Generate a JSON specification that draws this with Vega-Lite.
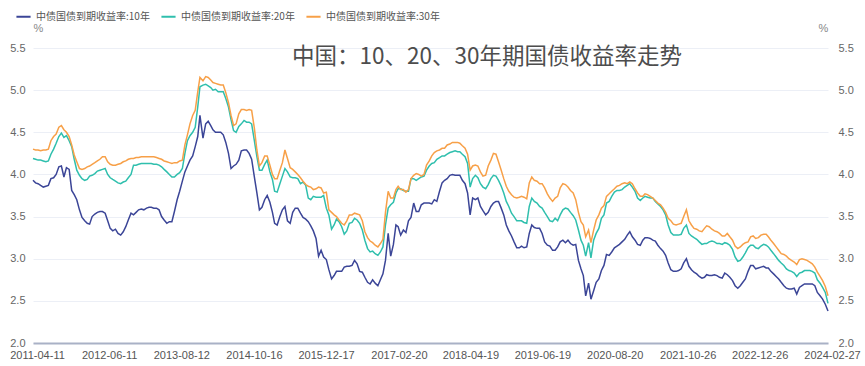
{
  "$schema": "https://vega.github.io/schema/vega-lite/v6.json",
  "width": 795,
  "height": 295,
  "autosize": {"type": "none"},
  "padding": {"left": 33, "top": 48, "right": 37, "bottom": 23},
  "background": "white",
  "config": {"view": {"stroke": null}, "font": "Liberation Sans"},
  "title": {
    "text": "中国：10、20、30年期国债收益率走势",
    "font": "Noto Sans CJK SC",
    "fontSize": 22.5,
    "fontWeight": "normal",
    "color": "#4d4d4d",
    "anchor": "start",
    "frame": "group",
    "orient": "top",
    "offset": -60,
    "dx": 259
  },
  "data": {
    "values": [
      {"date": "2011-04-11", "t10": 3.93, "t20": 4.19, "t30": 4.30},
      {"date": "2011-04-26", "t10": 3.90, "t20": 4.18, "t30": 4.29},
      {"date": "2011-05-11", "t10": 3.89, "t20": 4.17, "t30": 4.29},
      {"date": "2011-05-26", "t10": 3.87, "t20": 4.17, "t30": 4.28},
      {"date": "2011-06-11", "t10": 3.85, "t20": 4.16, "t30": 4.29},
      {"date": "2011-06-26", "t10": 3.86, "t20": 4.15, "t30": 4.29},
      {"date": "2011-07-11", "t10": 3.87, "t20": 4.16, "t30": 4.30},
      {"date": "2011-07-26", "t10": 3.95, "t20": 4.24, "t30": 4.40},
      {"date": "2011-08-11", "t10": 3.96, "t20": 4.30, "t30": 4.45},
      {"date": "2011-08-26", "t10": 4.00, "t20": 4.37, "t30": 4.48},
      {"date": "2011-09-11", "t10": 4.09, "t20": 4.45, "t30": 4.56},
      {"date": "2011-09-26", "t10": 4.10, "t20": 4.49, "t30": 4.58},
      {"date": "2011-10-11", "t10": 3.97, "t20": 4.44, "t30": 4.53},
      {"date": "2011-10-26", "t10": 4.08, "t20": 4.46, "t30": 4.50},
      {"date": "2011-11-11", "t10": 4.06, "t20": 4.40, "t30": 4.45},
      {"date": "2011-11-26", "t10": 3.81, "t20": 4.33, "t30": 4.35},
      {"date": "2011-12-11", "t10": 3.76, "t20": 4.18, "t30": 4.23},
      {"date": "2011-12-26", "t10": 3.70, "t20": 4.05, "t30": 4.15},
      {"date": "2012-01-11", "t10": 3.58, "t20": 3.99, "t30": 4.07},
      {"date": "2012-01-26", "t10": 3.49, "t20": 3.95, "t30": 4.06},
      {"date": "2012-02-11", "t10": 3.45, "t20": 3.93, "t30": 4.07},
      {"date": "2012-02-26", "t10": 3.42, "t20": 3.94, "t30": 4.09},
      {"date": "2012-03-11", "t10": 3.41, "t20": 3.98, "t30": 4.10},
      {"date": "2012-03-26", "t10": 3.50, "t20": 3.99, "t30": 4.12},
      {"date": "2012-04-11", "t10": 3.53, "t20": 4.01, "t30": 4.14},
      {"date": "2012-04-26", "t10": 3.55, "t20": 4.04, "t30": 4.16},
      {"date": "2012-05-11", "t10": 3.56, "t20": 4.05, "t30": 4.18},
      {"date": "2012-05-26", "t10": 3.56, "t20": 4.06, "t30": 4.21},
      {"date": "2012-06-11", "t10": 3.54, "t20": 4.07, "t30": 4.21},
      {"date": "2012-06-26", "t10": 3.45, "t20": 4.00, "t30": 4.15},
      {"date": "2012-07-11", "t10": 3.36, "t20": 3.96, "t30": 4.12},
      {"date": "2012-07-26", "t10": 3.33, "t20": 3.94, "t30": 4.11},
      {"date": "2012-08-11", "t10": 3.35, "t20": 3.92, "t30": 4.11},
      {"date": "2012-08-26", "t10": 3.30, "t20": 3.90, "t30": 4.12},
      {"date": "2012-09-11", "t10": 3.28, "t20": 3.89, "t30": 4.13},
      {"date": "2012-09-26", "t10": 3.32, "t20": 3.91, "t30": 4.15},
      {"date": "2012-10-11", "t10": 3.38, "t20": 3.92, "t30": 4.16},
      {"date": "2012-10-26", "t10": 3.46, "t20": 3.96, "t30": 4.18},
      {"date": "2012-11-11", "t10": 3.54, "t20": 4.00, "t30": 4.19},
      {"date": "2012-11-26", "t10": 3.52, "t20": 4.11, "t30": 4.19},
      {"date": "2012-12-11", "t10": 3.55, "t20": 4.11, "t30": 4.20},
      {"date": "2012-12-26", "t10": 3.58, "t20": 4.12, "t30": 4.20},
      {"date": "2013-01-11", "t10": 3.59, "t20": 4.13, "t30": 4.21},
      {"date": "2013-01-26", "t10": 3.58, "t20": 4.13, "t30": 4.21},
      {"date": "2013-02-11", "t10": 3.60, "t20": 4.13, "t30": 4.21},
      {"date": "2013-02-26", "t10": 3.61, "t20": 4.13, "t30": 4.21},
      {"date": "2013-03-11", "t10": 3.61, "t20": 4.13, "t30": 4.21},
      {"date": "2013-03-26", "t10": 3.60, "t20": 4.12, "t30": 4.21},
      {"date": "2013-04-11", "t10": 3.60, "t20": 4.12, "t30": 4.20},
      {"date": "2013-04-26", "t10": 3.58, "t20": 4.11, "t30": 4.19},
      {"date": "2013-05-11", "t10": 3.50, "t20": 4.09, "t30": 4.18},
      {"date": "2013-05-26", "t10": 3.46, "t20": 4.06, "t30": 4.16},
      {"date": "2013-06-11", "t10": 3.42, "t20": 4.03, "t30": 4.15},
      {"date": "2013-06-26", "t10": 3.44, "t20": 4.00, "t30": 4.14},
      {"date": "2013-07-11", "t10": 3.44, "t20": 3.97, "t30": 4.13},
      {"date": "2013-07-26", "t10": 3.56, "t20": 3.97, "t30": 4.14},
      {"date": "2013-08-11", "t10": 3.70, "t20": 4.00, "t30": 4.14},
      {"date": "2013-08-26", "t10": 3.80, "t20": 4.02, "t30": 4.16},
      {"date": "2013-09-11", "t10": 3.92, "t20": 4.07, "t30": 4.17},
      {"date": "2013-09-26", "t10": 4.03, "t20": 4.25, "t30": 4.35},
      {"date": "2013-10-11", "t10": 4.10, "t20": 4.40, "t30": 4.47},
      {"date": "2013-10-26", "t10": 4.17, "t20": 4.46, "t30": 4.60},
      {"date": "2013-11-11", "t10": 4.22, "t20": 4.50, "t30": 4.70},
      {"date": "2013-11-26", "t10": 4.33, "t20": 4.56, "t30": 4.76},
      {"date": "2013-12-11", "t10": 4.45, "t20": 4.80, "t30": 4.98},
      {"date": "2013-12-24", "t10": 4.70, "t20": 5.04, "t30": 5.15},
      {"date": "2014-01-11", "t10": 4.43, "t20": 5.06, "t30": 5.11},
      {"date": "2014-01-27", "t10": 4.60, "t20": 5.07, "t30": 5.16},
      {"date": "2014-02-11", "t10": 4.63, "t20": 5.05, "t30": 5.15},
      {"date": "2014-02-26", "t10": 4.58, "t20": 5.03, "t30": 5.12},
      {"date": "2014-03-11", "t10": 4.53, "t20": 5.00, "t30": 5.09},
      {"date": "2014-03-26", "t10": 4.50, "t20": 5.01, "t30": 5.08},
      {"date": "2014-04-11", "t10": 4.50, "t20": 4.98, "t30": 5.07},
      {"date": "2014-04-26", "t10": 4.50, "t20": 4.98, "t30": 5.06},
      {"date": "2014-05-11", "t10": 4.47, "t20": 4.98, "t30": 5.06},
      {"date": "2014-05-26", "t10": 4.38, "t20": 4.90, "t30": 4.97},
      {"date": "2014-06-11", "t10": 4.25, "t20": 4.80, "t30": 4.85},
      {"date": "2014-06-26", "t10": 4.07, "t20": 4.65, "t30": 4.70},
      {"date": "2014-07-11", "t10": 4.10, "t20": 4.52, "t30": 4.58},
      {"date": "2014-07-26", "t10": 4.12, "t20": 4.50, "t30": 4.60},
      {"date": "2014-08-11", "t10": 4.17, "t20": 4.57, "t30": 4.72},
      {"date": "2014-08-26", "t10": 4.28, "t20": 4.60, "t30": 4.77},
      {"date": "2014-09-11", "t10": 4.29, "t20": 4.64, "t30": 4.77},
      {"date": "2014-09-26", "t10": 4.29, "t20": 4.62, "t30": 4.76},
      {"date": "2014-10-11", "t10": 4.25, "t20": 4.62, "t30": 4.77},
      {"date": "2014-10-26", "t10": 4.18, "t20": 4.60, "t30": 4.76},
      {"date": "2014-11-11", "t10": 3.97, "t20": 4.40, "t30": 4.55},
      {"date": "2014-11-26", "t10": 3.78, "t20": 4.21, "t30": 4.29},
      {"date": "2014-12-11", "t10": 3.58, "t20": 4.05, "t30": 4.10},
      {"date": "2014-12-26", "t10": 3.61, "t20": 4.05, "t30": 4.14},
      {"date": "2015-01-11", "t10": 3.70, "t20": 4.12, "t30": 4.22},
      {"date": "2015-01-26", "t10": 3.75, "t20": 4.17, "t30": 4.22},
      {"date": "2015-02-11", "t10": 3.67, "t20": 4.03, "t30": 4.11},
      {"date": "2015-02-26", "t10": 3.55, "t20": 3.94, "t30": 4.00},
      {"date": "2015-03-11", "t10": 3.42, "t20": 3.80, "t30": 3.95},
      {"date": "2015-03-26", "t10": 3.40, "t20": 3.79, "t30": 3.95},
      {"date": "2015-04-11", "t10": 3.50, "t20": 3.89, "t30": 4.05},
      {"date": "2015-04-26", "t10": 3.58, "t20": 3.98, "t30": 4.14},
      {"date": "2015-05-11", "t10": 3.62, "t20": 4.07, "t30": 4.29},
      {"date": "2015-05-26", "t10": 3.45, "t20": 4.03, "t30": 4.19},
      {"date": "2015-06-11", "t10": 3.42, "t20": 3.97, "t30": 4.08},
      {"date": "2015-06-26", "t10": 3.55, "t20": 3.96, "t30": 4.06},
      {"date": "2015-07-11", "t10": 3.60, "t20": 3.96, "t30": 4.03},
      {"date": "2015-07-26", "t10": 3.60, "t20": 3.95, "t30": 4.00},
      {"date": "2015-08-11", "t10": 3.54, "t20": 3.89, "t30": 3.96},
      {"date": "2015-08-26", "t10": 3.49, "t20": 3.91, "t30": 3.92},
      {"date": "2015-09-11", "t10": 3.47, "t20": 3.87, "t30": 3.88},
      {"date": "2015-09-26", "t10": 3.44, "t20": 3.72, "t30": 3.86},
      {"date": "2015-10-11", "t10": 3.39, "t20": 3.70, "t30": 3.85},
      {"date": "2015-10-26", "t10": 3.33, "t20": 3.74, "t30": 3.82},
      {"date": "2015-11-11", "t10": 3.24, "t20": 3.73, "t30": 3.83},
      {"date": "2015-11-26", "t10": 3.03, "t20": 3.73, "t30": 3.85},
      {"date": "2015-12-11", "t10": 3.10, "t20": 3.73, "t30": 3.84},
      {"date": "2015-12-26", "t10": 3.02, "t20": 3.75, "t30": 3.78},
      {"date": "2016-01-11", "t10": 2.99, "t20": 3.60, "t30": 3.79},
      {"date": "2016-01-26", "t10": 2.87, "t20": 3.52, "t30": 3.58},
      {"date": "2016-02-11", "t10": 2.76, "t20": 3.35, "t30": 3.55},
      {"date": "2016-02-26", "t10": 2.80, "t20": 3.40, "t30": 3.52},
      {"date": "2016-03-11", "t10": 2.85, "t20": 3.47, "t30": 3.50},
      {"date": "2016-03-26", "t10": 2.85, "t20": 3.44, "t30": 3.46},
      {"date": "2016-04-11", "t10": 2.85, "t20": 3.38, "t30": 3.42},
      {"date": "2016-04-26", "t10": 2.90, "t20": 3.29, "t30": 3.40},
      {"date": "2016-05-11", "t10": 2.91, "t20": 3.33, "t30": 3.45},
      {"date": "2016-05-26", "t10": 2.91, "t20": 3.42, "t30": 3.52},
      {"date": "2016-06-11", "t10": 2.92, "t20": 3.43, "t30": 3.52},
      {"date": "2016-06-26", "t10": 2.98, "t20": 3.48, "t30": 3.54},
      {"date": "2016-07-11", "t10": 2.94, "t20": 3.46, "t30": 3.53},
      {"date": "2016-07-26", "t10": 2.85, "t20": 3.42, "t30": 3.52},
      {"date": "2016-08-11", "t10": 2.84, "t20": 3.34, "t30": 3.45},
      {"date": "2016-08-26", "t10": 2.78, "t20": 3.22, "t30": 3.32},
      {"date": "2016-09-11", "t10": 2.72, "t20": 3.12, "t30": 3.25},
      {"date": "2016-09-26", "t10": 2.70, "t20": 3.08, "t30": 3.21},
      {"date": "2016-10-11", "t10": 2.75, "t20": 3.09, "t30": 3.19},
      {"date": "2016-10-26", "t10": 2.71, "t20": 3.06, "t30": 3.16},
      {"date": "2016-11-11", "t10": 2.68, "t20": 3.04, "t30": 3.14},
      {"date": "2016-11-26", "t10": 2.75, "t20": 3.08, "t30": 3.18},
      {"date": "2016-12-11", "t10": 2.82, "t20": 3.14, "t30": 3.23},
      {"date": "2016-12-26", "t10": 2.98, "t20": 3.40, "t30": 3.55},
      {"date": "2017-01-11", "t10": 3.30, "t20": 3.60, "t30": 3.80},
      {"date": "2017-01-26", "t10": 3.03, "t20": 3.64, "t30": 3.72},
      {"date": "2017-02-11", "t10": 3.17, "t20": 3.67, "t30": 3.72},
      {"date": "2017-02-26", "t10": 3.40, "t20": 3.78, "t30": 3.82},
      {"date": "2017-03-11", "t10": 3.38, "t20": 3.83, "t30": 3.86},
      {"date": "2017-03-26", "t10": 3.28, "t20": 3.83, "t30": 3.82},
      {"date": "2017-04-11", "t10": 3.34, "t20": 3.81, "t30": 3.82},
      {"date": "2017-04-26", "t10": 3.31, "t20": 3.80, "t30": 3.79},
      {"date": "2017-05-11", "t10": 3.45, "t20": 3.80, "t30": 3.82},
      {"date": "2017-05-26", "t10": 3.49, "t20": 3.95, "t30": 3.95},
      {"date": "2017-06-11", "t10": 3.66, "t20": 3.95, "t30": 3.99},
      {"date": "2017-06-26", "t10": 3.56, "t20": 3.93, "t30": 4.01},
      {"date": "2017-07-11", "t10": 3.56, "t20": 3.95, "t30": 4.00},
      {"date": "2017-07-26", "t10": 3.64, "t20": 3.97, "t30": 3.98},
      {"date": "2017-08-11", "t10": 3.66, "t20": 3.98, "t30": 4.00},
      {"date": "2017-08-26", "t10": 3.66, "t20": 4.05, "t30": 4.11},
      {"date": "2017-09-11", "t10": 3.66, "t20": 4.10, "t30": 4.16},
      {"date": "2017-09-26", "t10": 3.65, "t20": 4.13, "t30": 4.22},
      {"date": "2017-10-11", "t10": 3.70, "t20": 4.14, "t30": 4.26},
      {"date": "2017-10-26", "t10": 3.68, "t20": 4.18, "t30": 4.28},
      {"date": "2017-11-11", "t10": 3.80, "t20": 4.20, "t30": 4.29},
      {"date": "2017-11-26", "t10": 3.90, "t20": 4.22, "t30": 4.31},
      {"date": "2017-12-11", "t10": 3.93, "t20": 4.22, "t30": 4.31},
      {"date": "2017-12-26", "t10": 3.95, "t20": 4.24, "t30": 4.35},
      {"date": "2018-01-11", "t10": 3.99, "t20": 4.26, "t30": 4.36},
      {"date": "2018-01-26", "t10": 4.00, "t20": 4.27, "t30": 4.38},
      {"date": "2018-02-11", "t10": 3.99, "t20": 4.28, "t30": 4.38},
      {"date": "2018-02-26", "t10": 3.99, "t20": 4.27, "t30": 4.38},
      {"date": "2018-03-11", "t10": 3.99, "t20": 4.27, "t30": 4.37},
      {"date": "2018-03-26", "t10": 3.93, "t20": 4.24, "t30": 4.34},
      {"date": "2018-04-11", "t10": 3.89, "t20": 4.21, "t30": 4.31},
      {"date": "2018-04-26", "t10": 3.78, "t20": 4.13, "t30": 4.24},
      {"date": "2018-05-11", "t10": 3.52, "t20": 3.85, "t30": 4.05},
      {"date": "2018-05-26", "t10": 3.72, "t20": 3.95, "t30": 4.10},
      {"date": "2018-06-11", "t10": 3.70, "t20": 3.99, "t30": 4.11},
      {"date": "2018-06-26", "t10": 3.72, "t20": 3.96, "t30": 4.10},
      {"date": "2018-07-11", "t10": 3.62, "t20": 3.89, "t30": 4.03},
      {"date": "2018-07-26", "t10": 3.57, "t20": 3.85, "t30": 3.98},
      {"date": "2018-08-11", "t10": 3.52, "t20": 3.83, "t30": 3.99},
      {"date": "2018-08-26", "t10": 3.55, "t20": 3.88, "t30": 4.10},
      {"date": "2018-09-11", "t10": 3.62, "t20": 3.95, "t30": 4.17},
      {"date": "2018-09-26", "t10": 3.66, "t20": 3.99, "t30": 4.25},
      {"date": "2018-10-11", "t10": 3.68, "t20": 3.98, "t30": 4.24},
      {"date": "2018-10-26", "t10": 3.68, "t20": 3.93, "t30": 4.15},
      {"date": "2018-11-11", "t10": 3.60, "t20": 3.86, "t30": 4.05},
      {"date": "2018-11-26", "t10": 3.52, "t20": 3.78, "t30": 3.95},
      {"date": "2018-12-11", "t10": 3.40, "t20": 3.68, "t30": 3.86},
      {"date": "2018-12-26", "t10": 3.33, "t20": 3.62, "t30": 3.80},
      {"date": "2019-01-11", "t10": 3.27, "t20": 3.54, "t30": 3.76},
      {"date": "2019-01-26", "t10": 3.20, "t20": 3.50, "t30": 3.73},
      {"date": "2019-02-11", "t10": 3.13, "t20": 3.45, "t30": 3.72},
      {"date": "2019-02-26", "t10": 3.13, "t20": 3.45, "t30": 3.73},
      {"date": "2019-03-11", "t10": 3.15, "t20": 3.45, "t30": 3.74},
      {"date": "2019-03-26", "t10": 3.13, "t20": 3.43, "t30": 3.73},
      {"date": "2019-04-11", "t10": 3.14, "t20": 3.42, "t30": 3.71},
      {"date": "2019-04-26", "t10": 3.30, "t20": 3.62, "t30": 3.90},
      {"date": "2019-05-11", "t10": 3.40, "t20": 3.72, "t30": 3.97},
      {"date": "2019-05-26", "t10": 3.37, "t20": 3.68, "t30": 3.93},
      {"date": "2019-06-11", "t10": 3.36, "t20": 3.66, "t30": 3.92},
      {"date": "2019-06-26", "t10": 3.36, "t20": 3.62, "t30": 3.89},
      {"date": "2019-07-11", "t10": 3.30, "t20": 3.60, "t30": 3.89},
      {"date": "2019-07-26", "t10": 3.20, "t20": 3.55, "t30": 3.84},
      {"date": "2019-08-11", "t10": 3.16, "t20": 3.50, "t30": 3.77},
      {"date": "2019-08-26", "t10": 3.15, "t20": 3.45, "t30": 3.72},
      {"date": "2019-09-11", "t10": 3.10, "t20": 3.44, "t30": 3.68},
      {"date": "2019-09-26", "t10": 3.10, "t20": 3.48, "t30": 3.72},
      {"date": "2019-10-11", "t10": 3.14, "t20": 3.45, "t30": 3.74},
      {"date": "2019-10-26", "t10": 3.20, "t20": 3.52, "t30": 3.84},
      {"date": "2019-11-11", "t10": 3.22, "t20": 3.58, "t30": 3.89},
      {"date": "2019-11-26", "t10": 3.19, "t20": 3.60, "t30": 3.88},
      {"date": "2019-12-11", "t10": 3.22, "t20": 3.59, "t30": 3.85},
      {"date": "2019-12-26", "t10": 3.18, "t20": 3.55, "t30": 3.81},
      {"date": "2020-01-11", "t10": 3.16, "t20": 3.51, "t30": 3.78},
      {"date": "2020-01-26", "t10": 3.17, "t20": 3.46, "t30": 3.70},
      {"date": "2020-02-11", "t10": 2.98, "t20": 3.34, "t30": 3.55},
      {"date": "2020-02-26", "t10": 2.88, "t20": 3.22, "t30": 3.44},
      {"date": "2020-03-11", "t10": 2.80, "t20": 3.16, "t30": 3.40},
      {"date": "2020-03-25", "t10": 2.56, "t20": 3.03, "t30": 3.26},
      {"date": "2020-04-11", "t10": 2.71, "t20": 3.19, "t30": 3.34},
      {"date": "2020-04-25", "t10": 2.52, "t20": 3.01, "t30": 3.19},
      {"date": "2020-05-11", "t10": 2.62, "t20": 3.22, "t30": 3.34},
      {"date": "2020-05-26", "t10": 2.72, "t20": 3.30, "t30": 3.46},
      {"date": "2020-06-11", "t10": 2.76, "t20": 3.36, "t30": 3.52},
      {"date": "2020-06-26", "t10": 2.86, "t20": 3.48, "t30": 3.60},
      {"date": "2020-07-11", "t10": 2.92, "t20": 3.52, "t30": 3.63},
      {"date": "2020-07-26", "t10": 3.05, "t20": 3.66, "t30": 3.74},
      {"date": "2020-08-11", "t10": 3.04, "t20": 3.68, "t30": 3.77},
      {"date": "2020-08-26", "t10": 3.08, "t20": 3.74, "t30": 3.80},
      {"date": "2020-09-11", "t10": 3.13, "t20": 3.79, "t30": 3.83},
      {"date": "2020-09-26", "t10": 3.15, "t20": 3.81, "t30": 3.86},
      {"date": "2020-10-11", "t10": 3.17, "t20": 3.81, "t30": 3.87},
      {"date": "2020-10-26", "t10": 3.20, "t20": 3.82, "t30": 3.89},
      {"date": "2020-11-11", "t10": 3.23, "t20": 3.85, "t30": 3.90},
      {"date": "2020-11-26", "t10": 3.28, "t20": 3.87, "t30": 3.89},
      {"date": "2020-12-11", "t10": 3.32, "t20": 3.89, "t30": 3.91},
      {"date": "2020-12-26", "t10": 3.26, "t20": 3.85, "t30": 3.89},
      {"date": "2021-01-11", "t10": 3.22, "t20": 3.80, "t30": 3.83},
      {"date": "2021-01-26", "t10": 3.17, "t20": 3.72, "t30": 3.78},
      {"date": "2021-02-11", "t10": 3.16, "t20": 3.69, "t30": 3.74},
      {"date": "2021-02-26", "t10": 3.22, "t20": 3.72, "t30": 3.74},
      {"date": "2021-03-11", "t10": 3.25, "t20": 3.74, "t30": 3.77},
      {"date": "2021-03-26", "t10": 3.25, "t20": 3.73, "t30": 3.76},
      {"date": "2021-04-11", "t10": 3.24, "t20": 3.72, "t30": 3.74},
      {"date": "2021-04-26", "t10": 3.22, "t20": 3.72, "t30": 3.72},
      {"date": "2021-05-11", "t10": 3.21, "t20": 3.68, "t30": 3.69},
      {"date": "2021-05-26", "t10": 3.16, "t20": 3.65, "t30": 3.66},
      {"date": "2021-06-11", "t10": 3.12, "t20": 3.62, "t30": 3.64},
      {"date": "2021-06-26", "t10": 3.09, "t20": 3.58, "t30": 3.60},
      {"date": "2021-07-11", "t10": 3.04, "t20": 3.52, "t30": 3.55},
      {"date": "2021-07-26", "t10": 2.95, "t20": 3.40, "t30": 3.48},
      {"date": "2021-08-11", "t10": 2.87, "t20": 3.31, "t30": 3.45},
      {"date": "2021-08-26", "t10": 2.85, "t20": 3.28, "t30": 3.41},
      {"date": "2021-09-11", "t10": 2.85, "t20": 3.28, "t30": 3.40},
      {"date": "2021-09-26", "t10": 2.86, "t20": 3.28, "t30": 3.41},
      {"date": "2021-10-11", "t10": 2.88, "t20": 3.29, "t30": 3.42},
      {"date": "2021-10-26", "t10": 2.95, "t20": 3.36, "t30": 3.50},
      {"date": "2021-11-11", "t10": 3.00, "t20": 3.40, "t30": 3.58},
      {"date": "2021-11-26", "t10": 2.91, "t20": 3.30, "t30": 3.45},
      {"date": "2021-12-11", "t10": 2.87, "t20": 3.27, "t30": 3.40},
      {"date": "2021-12-26", "t10": 2.84, "t20": 3.25, "t30": 3.36},
      {"date": "2022-01-11", "t10": 2.82, "t20": 3.23, "t30": 3.35},
      {"date": "2022-01-26", "t10": 2.79, "t20": 3.20, "t30": 3.33},
      {"date": "2022-02-11", "t10": 2.77, "t20": 3.17, "t30": 3.32},
      {"date": "2022-02-26", "t10": 2.78, "t20": 3.18, "t30": 3.36},
      {"date": "2022-03-11", "t10": 2.81, "t20": 3.18, "t30": 3.39},
      {"date": "2022-03-26", "t10": 2.80, "t20": 3.20, "t30": 3.38},
      {"date": "2022-04-11", "t10": 2.80, "t20": 3.21, "t30": 3.35},
      {"date": "2022-04-26", "t10": 2.81, "t20": 3.20, "t30": 3.33},
      {"date": "2022-05-11", "t10": 2.80, "t20": 3.18, "t30": 3.32},
      {"date": "2022-05-26", "t10": 2.78, "t20": 3.18, "t30": 3.30},
      {"date": "2022-06-11", "t10": 2.77, "t20": 3.17, "t30": 3.27},
      {"date": "2022-06-26", "t10": 2.83, "t20": 3.19, "t30": 3.27},
      {"date": "2022-07-11", "t10": 2.81, "t20": 3.18, "t30": 3.30},
      {"date": "2022-07-26", "t10": 2.78, "t20": 3.16, "t30": 3.26},
      {"date": "2022-08-11", "t10": 2.74, "t20": 3.11, "t30": 3.22},
      {"date": "2022-08-26", "t10": 2.68, "t20": 3.02, "t30": 3.15},
      {"date": "2022-09-11", "t10": 2.65, "t20": 2.97, "t30": 3.12},
      {"date": "2022-09-26", "t10": 2.68, "t20": 2.98, "t30": 3.14},
      {"date": "2022-10-11", "t10": 2.72, "t20": 3.02, "t30": 3.17},
      {"date": "2022-10-26", "t10": 2.76, "t20": 3.07, "t30": 3.19},
      {"date": "2022-11-11", "t10": 2.85, "t20": 3.13, "t30": 3.20},
      {"date": "2022-11-26", "t10": 2.92, "t20": 3.16, "t30": 3.26},
      {"date": "2022-12-11", "t10": 2.92, "t20": 3.16, "t30": 3.27},
      {"date": "2022-12-26", "t10": 2.88, "t20": 3.13, "t30": 3.24},
      {"date": "2023-01-11", "t10": 2.89, "t20": 3.12, "t30": 3.25},
      {"date": "2023-01-26", "t10": 2.90, "t20": 3.15, "t30": 3.28},
      {"date": "2023-02-11", "t10": 2.91, "t20": 3.17, "t30": 3.29},
      {"date": "2023-02-26", "t10": 2.89, "t20": 3.16, "t30": 3.29},
      {"date": "2023-03-11", "t10": 2.89, "t20": 3.14, "t30": 3.26},
      {"date": "2023-03-26", "t10": 2.85, "t20": 3.10, "t30": 3.22},
      {"date": "2023-04-11", "t10": 2.82, "t20": 3.06, "t30": 3.18},
      {"date": "2023-04-26", "t10": 2.79, "t20": 3.02, "t30": 3.14},
      {"date": "2023-05-11", "t10": 2.76, "t20": 2.98, "t30": 3.10},
      {"date": "2023-05-26", "t10": 2.72, "t20": 2.95, "t30": 3.06},
      {"date": "2023-06-11", "t10": 2.68, "t20": 2.92, "t30": 3.05},
      {"date": "2023-06-26", "t10": 2.65, "t20": 2.88, "t30": 3.03},
      {"date": "2023-07-11", "t10": 2.64, "t20": 2.86, "t30": 3.00},
      {"date": "2023-07-26", "t10": 2.64, "t20": 2.85, "t30": 2.98},
      {"date": "2023-08-11", "t10": 2.65, "t20": 2.83, "t30": 2.96},
      {"date": "2023-08-26", "t10": 2.58, "t20": 2.79, "t30": 2.93},
      {"date": "2023-09-11", "t10": 2.66, "t20": 2.83, "t30": 2.99},
      {"date": "2023-09-26", "t10": 2.68, "t20": 2.84, "t30": 3.00},
      {"date": "2023-10-11", "t10": 2.70, "t20": 2.86, "t30": 2.99},
      {"date": "2023-10-26", "t10": 2.70, "t20": 2.86, "t30": 2.98},
      {"date": "2023-11-11", "t10": 2.70, "t20": 2.86, "t30": 2.96},
      {"date": "2023-11-26", "t10": 2.70, "t20": 2.85, "t30": 2.94},
      {"date": "2023-12-11", "t10": 2.68, "t20": 2.83, "t30": 2.90},
      {"date": "2023-12-26", "t10": 2.60, "t20": 2.75, "t30": 2.84},
      {"date": "2024-01-11", "t10": 2.56, "t20": 2.71, "t30": 2.79},
      {"date": "2024-01-26", "t10": 2.52, "t20": 2.66, "t30": 2.74},
      {"date": "2024-02-11", "t10": 2.46, "t20": 2.60, "t30": 2.67},
      {"date": "2024-02-27", "t10": 2.38, "t20": 2.47, "t30": 2.56}
    ]
  },
  "transform": [{"fold": ["t10", "t20", "t30"], "as": ["series", "value"]}],
  "encoding": {
    "x": {
      "field": "date",
      "type": "temporal",
      "scale": {
        "type": "utc",
        "domain": [
          {"year": 2011, "month": 4, "date": 11, "utc": true},
          {"year": 2024, "month": 2, "date": 27, "utc": true}
        ]
      },
      "axis": {
        "values": [
          {"year": 2011, "month": 4, "date": 11, "utc": true},
          {"year": 2012, "month": 6, "date": 11, "utc": true},
          {"year": 2013, "month": 8, "date": 12, "utc": true},
          {"year": 2014, "month": 10, "date": 16, "utc": true},
          {"year": 2015, "month": 12, "date": 17, "utc": true},
          {"year": 2017, "month": 2, "date": 20, "utc": true},
          {"year": 2018, "month": 4, "date": 19, "utc": true},
          {"year": 2019, "month": 6, "date": 19, "utc": true},
          {"year": 2020, "month": 8, "date": 20, "utc": true},
          {"year": 2021, "month": 10, "date": 26, "utc": true},
          {"year": 2022, "month": 12, "date": 26, "utc": true},
          {"year": 2024, "month": 2, "date": 27, "utc": true}
        ],
        "labelExpr": "utcFormat(datum.value, '%Y-%m-%d')",
        "labelOverlap": false,
        "labelFlush": false,
        "labelBound": false,
        "ticks": false,
        "grid": false,
        "domainColor": "#a9b1c6",
        "domainWidth": 2,
        "labelFont": "Liberation Sans",
        "labelFontSize": 11,
        "labelColor": "#555555",
        "labelPadding": 6,
        "labelOffset": 4,
        "title": null
      }
    }
  },
  "layer": [
    {
      "mark": {"type": "line", "strokeWidth": 1.5},
      "encoding": {
        "y": {
          "field": "value",
          "type": "quantitative",
          "scale": {"domain": [2, 5.5], "nice": false, "zero": false},
          "axis": {
            "orient": "left",
            "values": [2, 2.5, 3, 3.5, 4, 4.5, 5, 5.5],
            "format": ".1f",
            "ticks": false,
            "domain": false,
            "grid": true,
            "gridColor": "#eceff6",
            "gridWidth": 1,
            "labelFont": "Liberation Sans",
            "labelFontSize": 11,
            "labelColor": "#666666",
            "labelPadding": 8,
            "title": "%",
            "titleAngle": 0,
            "titleX": 5,
            "titleY": -20,
            "titleAlign": "center",
            "titleBaseline": "middle",
            "titleFont": "Liberation Sans",
            "titleFontSize": 11,
            "titleFontWeight": "normal",
            "titleColor": "#888888"
          }
        },
        "color": {
          "field": "series",
          "type": "nominal",
          "scale": {"domain": ["t10", "t20", "t30"], "range": ["#3b4597", "#2fbfad", "#f7a048"]},
          "legend": {
            "orient": "none",
            "legendX": -18,
            "legendY": -40,
            "direction": "horizontal",
            "title": null,
            "symbolType": "stroke",
            "symbolSize": 200,
            "symbolStrokeWidth": 2,
            "labelFont": "Noto Sans CJK SC",
            "labelFontSize": 10,
            "labelColor": "#555555",
            "labelOffset": 4,
            "columnPadding": 7,
            "labelExpr": "datum.label == 't10' ? '中债国债到期收益率:10年' : datum.label == 't20' ? '中债国债到期收益率:20年' : '中债国债到期收益率:30年'"
          }
        }
      }
    },
    {
      "mark": {"type": "line", "opacity": 0},
      "encoding": {
        "y": {
          "field": "value",
          "type": "quantitative",
          "axis": {
            "orient": "right",
            "values": [2, 2.5, 3, 3.5, 4, 4.5, 5, 5.5],
            "format": ".1f",
            "ticks": false,
            "domain": false,
            "grid": false,
            "labelFont": "Liberation Sans",
            "labelFontSize": 11,
            "labelColor": "#666666",
            "labelPadding": 10,
            "title": "%",
            "titleAngle": 0,
            "titleX": -5,
            "titleY": -20,
            "titleAlign": "center",
            "titleBaseline": "middle",
            "titleFont": "Liberation Sans",
            "titleFontSize": 11,
            "titleFontWeight": "normal",
            "titleColor": "#888888"
          }
        },
        "detail": {"field": "series", "type": "nominal"}
      }
    }
  ],
  "resolve": {"axis": {"y": "independent"}}
}
